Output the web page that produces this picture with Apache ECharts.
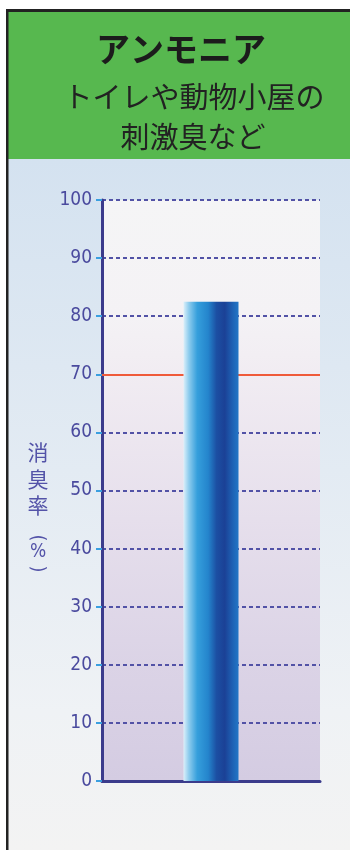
<!DOCTYPE html>
<html>
<head>
<meta charset="utf-8">
<script src="https://cdn.jsdelivr.net/npm/echarts@6/dist/echarts.min.js"></script>
<style>
  html, body { margin: 0; padding: 0; background: #ffffff; }
  #chart { width: 350px; height: 850px; }
</style>
</head>
<body>
<div id="chart"></div>
<script>
// Deodorizing rate for ammonia
const categories = ['アンモニア'];
const rates = [82.5];
const targetLine = 70;
const yTicks = { min: 0, max: 100, step: 10 };
const titleText = 'アンモニア';
const subtitleLines = ['トイレや動物小屋の', '刺激臭など'];
const yAxisNameWord = '消\n臭\n率';
const yAxisNameUnit = ['(', '%', ')'];

const chart = echarts.init(document.getElementById('chart'), null, { renderer: 'canvas' });
const LG = echarts.graphic.LinearGradient;
const CJK = '"Noto Sans CJK JP", "Noto Sans", sans-serif';
const CONDENSED = '"DejaVu Sans Condensed", "Liberation Sans Narrow", sans-serif';
const CAPTION = '#5353a8';

chart.setOption({
  animation: false,
  backgroundColor: '#ffffff',
  graphic: [
    // panel background below the header
    { type: 'rect', z: -10, shape: { x: 8, y: 159, width: 342, height: 691 },
      style: { fill: new LG(0, 0, 0, 1, [
        { offset: 0, color: '#d4e2f0' },
        { offset: 0.45, color: '#e3ebf3' },
        { offset: 0.8, color: '#eff2f5' },
        { offset: 1, color: '#f3f3f3' }
      ]) } },
    // green header
    { type: 'rect', z: -9, shape: { x: 8, y: 12, width: 342, height: 147 },
      style: { fill: '#57b84f' } },
    // frame
    { type: 'rect', z: -8, shape: { x: 6, y: 9, width: 344, height: 3 }, style: { fill: '#222222' } },
    { type: 'rect', z: -8, shape: { x: 6, y: 9, width: 2.5, height: 841 }, style: { fill: '#222222' } },
    // header texts
    { type: 'text', z: 10, x: 181, y: 49,
      style: { text: titleText, fill: '#1c1c1c', font: 'bold 34px ' + CJK,
               align: 'center', verticalAlign: 'middle' } },
    { type: 'text', z: 10, x: 194, y: 97,
      style: { text: subtitleLines[0], fill: '#222222', font: '29px ' + CJK,
               align: 'center', verticalAlign: 'middle' } },
    { type: 'text', z: 10, x: 193, y: 137,
      style: { text: subtitleLines[1], fill: '#222222', font: '29px ' + CJK,
               align: 'center', verticalAlign: 'middle' } },
    // y-axis caption, set vertically
    { type: 'text', z: 10, x: 38, y: 439,
      style: { text: yAxisNameWord, fill: CAPTION, font: '21px ' + CJK, lineHeight: 26.5,
               align: 'center', verticalAlign: 'top' } },
    { type: 'text', z: 10, x: 37, y: 538, rotation: -Math.PI / 2,
      style: { text: yAxisNameUnit[0], fill: CAPTION, font: '20px ' + CONDENSED,
               align: 'center', verticalAlign: 'middle' } },
    { type: 'text', z: 10, x: 38, y: 552,
      style: { text: yAxisNameUnit[1], fill: CAPTION, font: '19px ' + CONDENSED,
               align: 'center', verticalAlign: 'middle' } },
    { type: 'text', z: 10, x: 37, y: 569, rotation: -Math.PI / 2,
      style: { text: yAxisNameUnit[2], fill: CAPTION, font: '20px ' + CONDENSED,
               align: 'center', verticalAlign: 'middle' } }
  ],
  grid: {
    left: 102, right: 30, top: 200, bottom: 69,
    show: true, borderWidth: 0,
    backgroundColor: new LG(0, 0, 0, 1, [
      { offset: 0, color: '#f5f5f6' },
      { offset: 0.2, color: '#f4f2f5' },
      { offset: 0.3, color: '#f1ecf2' },
      { offset: 0.55, color: '#e6dfec' },
      { offset: 0.8, color: '#dbd3e6' },
      { offset: 1, color: '#d4cce2' }
    ])
  },
  xAxis: {
    type: 'category',
    data: categories,
    axisLine: { show: true, lineStyle: { color: '#3b3b8c', width: 3 } },
    axisTick: { show: false },
    axisLabel: { show: false },
    splitLine: { show: false }
  },
  yAxis: {
    type: 'value',
    min: yTicks.min, max: yTicks.max, interval: yTicks.step,
    axisLine: { show: true, lineStyle: { color: '#3b3b8c', width: 3 } },
    axisTick: { show: true, length: 6, lineStyle: { color: '#3a9fe0', width: 2 } },
    axisLabel: { color: '#4a4a9e', fontSize: 19, fontFamily: CONDENSED, margin: 10 },
    splitLine: { show: true, lineStyle: { color: '#5252a6', width: 2, type: [4, 3] } }
  },
  series: [{
    type: 'bar',
    data: rates,
    barWidth: 55,
    z: 3,
    itemStyle: {
      color: new LG(0, 0, 1, 0, [
        { offset: 0, color: '#dcf0fa' },
        { offset: 0.1, color: '#8ccbed' },
        { offset: 0.25, color: '#359fdc' },
        { offset: 0.45, color: '#2484cc' },
        { offset: 0.6, color: '#1c4fa3' },
        { offset: 0.75, color: '#1b4196' },
        { offset: 0.9, color: '#1e63b6' },
        { offset: 1, color: '#2276c6' }
      ])
    },
    markLine: {
      z: 1,
      silent: true,
      symbol: 'none',
      label: { show: false },
      lineStyle: { color: '#ef5a3a', width: 2, type: 'solid' },
      data: [{ yAxis: targetLine }]
    }
  }]
});
</script>
</body>
</html>
